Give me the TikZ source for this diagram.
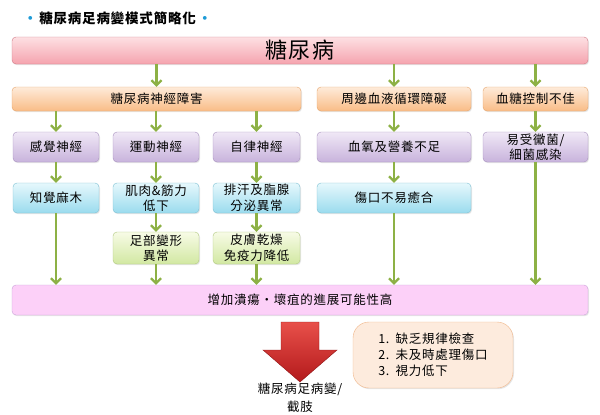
\documentclass[tikz,border=0pt]{standalone}
\usepackage{fontspec}
\setmainfont{Noto Sans CJK TC}[LetterSpace=6]
\usetikzlibrary{arrows.meta,shadows}

\definecolor{dmtop}{HTML}{FDE0E3}
\definecolor{dmbot}{HTML}{F5A3AE}
\definecolor{dmline}{HTML}{D07A86}
\definecolor{ortop}{HTML}{FEEBDA}
\definecolor{orbot}{HTML}{F9BC86}
\definecolor{orline}{HTML}{E5A56C}
\definecolor{putop}{HTML}{F0E8F6}
\definecolor{pubot}{HTML}{C8B3DC}
\definecolor{puline}{HTML}{A791BE}
\definecolor{bltop}{HTML}{E6F8FC}
\definecolor{blbot}{HTML}{9ADBEE}
\definecolor{blline}{HTML}{7CBFD2}
\definecolor{grtop}{HTML}{F7FBE6}
\definecolor{grbot}{HTML}{D2E8A2}
\definecolor{grline}{HTML}{AFC77E}
\definecolor{ulcerfill}{HTML}{FCD0F8}
\definecolor{ulcerline}{HTML}{C9A3D9}
\definecolor{listfill}{HTML}{FDEBDD}
\definecolor{listline}{HTML}{F0B486}
\definecolor{arrowgreen}{HTML}{8DB145}
\definecolor{bulletblue}{HTML}{1E9BD7}
\definecolor{redtop}{HTML}{E8504A}
\definecolor{redbot}{HTML}{B3191B}

\begin{document}
\begin{tikzpicture}[x=1pt,y=-1pt,
                box/.style={
                    draw,
                    rectangle,
                    rounded corners=4pt,
                    align=center,
                    inner sep=1pt,
                    drop shadow={opacity=0.2, shadow xshift=1pt, shadow yshift=-1.2pt},
                    font=\fontsize{12.5}{15.5}\selectfont
                },
                dmbox/.style={
                    box,
                    top color=dmtop,
                    bottom color=dmbot,
                    draw=dmline,
                    font=\fontsize{22}{24}\selectfont
                },
                causebox/.style={
                    box,
                    top color=ortop,
                    bottom color=orbot,
                    draw=orline,
                    minimum height=24pt
                },
                typebox/.style={
                    box,
                    top color=putop,
                    bottom color=pubot,
                    draw=puline,
                    minimum height=30pt
                },
                effectbox/.style={
                    box,
                    top color=bltop,
                    bottom color=blbot,
                    draw=blline,
                    minimum height=30pt
                },
                resultbox/.style={
                    box,
                    top color=grtop,
                    bottom color=grbot,
                    draw=grline,
                    minimum height=32pt
                },
                arrow/.style={
                    -{Straight Barb[length=5pt,width=10pt]},
                    line width=2.2pt,
                    draw=arrowgreen
                }
            ]
    \useasboundingbox (0,0) rectangle (600,415);

    \node[anchor=west, font=\fontsize{13.5}{15}\selectfont\bfseries] (title) at (20,18)
        {\textcolor{bulletblue}{•}\,糖尿病足病變模式簡略化\,\textcolor{bulletblue}{•}};

    \node[dmbox, minimum width=576pt, minimum height=27pt] (dm) at (300,50.5) {糖尿病};

    \node[causebox, minimum width=289pt] (nerve) at (156.5,99) {糖尿病神經障害};
    \node[causebox, minimum width=154pt] (blood) at (394,99) {周邊血液循環障礙};
    \node[causebox, minimum width=105pt] (sugar) at (535.5,99) {血糖控制不佳};

    \node[typebox, minimum width=86pt] (sense) at (56,147) {感覺神經};
    \node[typebox, minimum width=86pt] (motor) at (156,147) {運動神經};
    \node[typebox, minimum width=87pt] (auto) at (256.5,147) {自律神經};
    \node[typebox, minimum width=154pt] (oxygen) at (394,147) {血氧及營養不足};
    \node[typebox, minimum width=105pt] (infect) at (535.5,147) {易受黴菌/\\細菌感染};

    \node[effectbox, minimum width=86pt] (numb) at (56,198) {知覺麻木};
    \node[effectbox, minimum width=86pt] (muscle) at (156,198) {肌肉\&筋力\\低下};
    \node[effectbox, minimum width=87pt] (sweat) at (256.5,198) {排汗及脂腺\\分泌異常};
    \node[effectbox, minimum width=154pt] (wound) at (394,198) {傷口不易癒合};

    \node[resultbox, minimum width=86pt] (deform) at (156,248) {足部變形\\異常};
    \node[resultbox, minimum width=87pt] (skin) at (256.5,248) {皮膚乾燥\\免疫力降低};

    \node[box, fill=ulcerfill, draw=ulcerline, minimum width=576pt, minimum height=30pt] (ulcer) at (300,300)
        {增加潰瘍・壞疽的進展可能性高};

    \shade[top color=redtop, bottom color=redbot, draw=redbot!80!black]
        (281,322) -- (319,322) -- (319,350) -- (337,350) -- (300,382)
        -- (263,350) -- (281,350) -- cycle;
    \node[align=center, font=\fontsize{12.5}{18}\selectfont] (amput) at (300,397.5) {糖尿病足病變/\\截肢};

    \node[box, fill=listfill, draw=listline, rounded corners=16pt, minimum width=160pt,
          minimum height=66pt, align=left, font=\fontsize{12.5}{16}\selectfont] (reason) at (433,355)
        {1.\enspace 缺乏規律檢查\\2.\enspace 未及時處理傷口\\3.\enspace 視力低下};

    \draw[arrow] (nerve |- dm.south) -- (nerve.north);
    \draw[arrow] (blood |- dm.south) -- (blood.north);
    \draw[arrow] (sugar |- dm.south) -- (sugar.north);

    \draw[arrow] (sense |- nerve.south) -- (sense.north);
    \draw[arrow] (motor |- nerve.south) -- (motor.north);
    \draw[arrow] (auto |- nerve.south) -- (auto.north);
    \draw[arrow] (blood.south) -- (oxygen.north);
    \draw[arrow] (sugar.south) -- (infect.north);

    \draw[arrow] (sense.south) -- (numb.north);
    \draw[arrow] (motor.south) -- (muscle.north);
    \draw[arrow] (auto.south) -- (sweat.north);
    \draw[arrow] (oxygen.south) -- (wound.north);

    \draw[arrow] (muscle.south) -- (deform.north);
    \draw[arrow] (sweat.south) -- (skin.north);

    \draw[arrow] (numb.south) -- (numb |- ulcer.north);
    \draw[arrow] (deform.south) -- (deform |- ulcer.north);
    \draw[arrow] (skin.south) -- (skin |- ulcer.north);
    \draw[arrow] (wound.south) -- (wound |- ulcer.north);
    \draw[arrow] (infect.south) -- (infect |- ulcer.north);
\end{tikzpicture}
\end{document}
